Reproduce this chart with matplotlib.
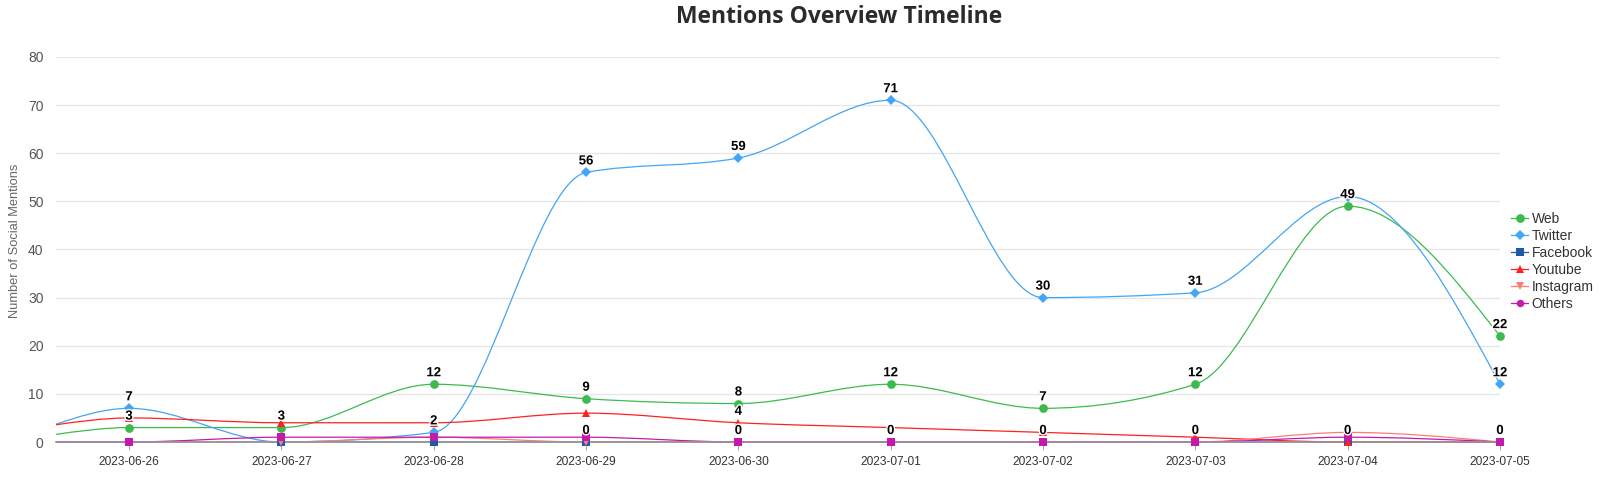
import numpy as np
import matplotlib
matplotlib.use('Agg')
import matplotlib.pyplot as plt
from matplotlib.path import Path
from matplotlib.patches import PathPatch, Rectangle
from matplotlib.lines import Line2D
import matplotlib.patheffects as pe

# first date (06-25) sits left of the visible range, only its line shows
dates = ['2023-06-25', '2023-06-26', '2023-06-27', '2023-06-28', '2023-06-29', '2023-06-30',
         '2023-07-01', '2023-07-02', '2023-07-03', '2023-07-04', '2023-07-05']
web = [0, 3, 3, 12, 9, 8, 12, 7, 12, 49, 22]
twitter = [0, 7, 0, 2, 56, 59, 71, 30, 31, 51, 12]
facebook = [0, 0, 0, 0, 0, 0, 0, 0, 0, 0, 0]
youtube = [2, 5, 4, 4, 6, 4, 3, 2, 1, 0, 0]
instagram = [0, 0, 0, 1, 0, 0, 0, 0, 0, 2, 0]
others = [0, 0, 1, 1, 1, 0, 0, 0, 0, 1, 0]

# which data labels are drawn (visible dates only)
web_lbl = [1, 1, 1, 1, 1, 1, 1, 1, 1, 1]
twitter_lbl = [1, 0, 1, 1, 1, 1, 1, 1, 0, 1]
facebook_lbl = [0, 0, 0, 1, 1, 1, 1, 1, 1, 1]
youtube_lbl = [0, 0, 0, 0, 1, 0, 0, 0, 0, 0]
none_lbl = [0] * 10

series = [
    ('Web', web, '#3dba4e', 'o', 6.3, web_lbl),
    ('Twitter', twitter, '#42a5f5', 'D', 4.6, twitter_lbl),
    ('Facebook', facebook, '#1f5aa6', 's', 5.2, facebook_lbl),
    ('Youtube', youtube, '#ff2020', '^', 6.0, youtube_lbl),
    ('Instagram', instagram, '#ff7b7b', 'v', 6.0, none_lbl),
    ('Others', others, '#c41aac', 's', 5.4, none_lbl),
]


def monotone_path(xs, ys):
    # monotone cubic (steffen) like d3 curveMonotoneX
    xs = np.asarray(xs, float)
    ys = np.asarray(ys, float)
    n = len(xs)
    h = np.diff(xs)
    s = np.diff(ys) / h
    m = np.zeros(n)
    for i in range(1, n - 1):
        p = (s[i - 1] * h[i] + s[i] * h[i - 1]) / (h[i - 1] + h[i])
        m[i] = (np.sign(s[i - 1]) + np.sign(s[i])) * min(abs(s[i - 1]), abs(s[i]), 0.5 * abs(p))
    m[0] = 0.0
    m[-1] = (3 * s[-1] - m[-2]) / 2
    verts = [(xs[0], ys[0])]
    codes = [Path.MOVETO]
    for i in range(n - 1):
        d = h[i] / 3
        verts += [(xs[i] + d, ys[i] + m[i] * d), (xs[i + 1] - d, ys[i + 1] - m[i + 1] * d), (xs[i + 1], ys[i + 1])]
        codes += [Path.CURVE4] * 3
    return Path(verts, codes)


x = np.arange(len(dates)) - 1

fig = plt.figure(figsize=(16, 4.79), dpi=100)
ax = fig.add_axes([0.035, 0.0772, 0.9025, 0.804])

clip = Rectangle((0, -0.05), 1, 1.1, transform=ax.transAxes, facecolor='none', edgecolor='none')

for name, vals, col, mk, ms, lbl in series:
    patch = PathPatch(monotone_path(x, vals), facecolor='none', edgecolor=col, lw=0.9, zorder=2)
    ax.add_patch(patch)
    patch.set_clip_path(clip)
    ax.plot(x[1:], vals[1:], ls='none', marker=mk, color=col, ms=ms, mew=0, clip_on=False, zorder=4)

for name, vals, col, mk, ms, lbl in series:
    for xi, v, show in zip(x[1:], vals[1:], lbl):
        if show:
            ax.annotate(str(v), (xi, v), xytext=(0, 11), textcoords='offset pixels',
                        ha='center', va='center', fontsize=9.5, fontweight='bold',
                        family='Liberation Sans', color='black', zorder=6,
                        path_effects=[pe.withStroke(linewidth=2, foreground='white')],
                        annotation_clip=False)

ax.set_xlim(-0.48, 9)
ax.set_ylim(0, 80)
ax.set_yticks(np.arange(0, 81, 10))
ax.set_xticks(x[1:])
ax.set_xticklabels(dates[1:])
ax.grid(axis='y', color='#e6e6e6', lw=1)
ax.set_axisbelow(True)
for sp in ['top', 'right', 'left']:
    ax.spines[sp].set_visible(False)
ax.spines['bottom'].set_color('#9c98a0')
ax.spines['bottom'].set_linewidth(1.2)
ax.spines['bottom'].set_zorder(3)
ax.tick_params(axis='y', length=0, pad=9, labelsize=10, labelcolor='#555555')
ax.tick_params(axis='x', length=6, width=0.8, color='#aaaaaa', pad=4, labelsize=8.6, labelcolor='#333333')
for t in ax.get_xticklabels() + ax.get_yticklabels():
    t.set_family('Liberation Sans')

fig.text(15 / 1600, 1 - 241 / 479, 'Number of Social Mentions', rotation=90, ha='center', va='center',
         fontsize=9.3, color='#666666', family='Liberation Sans')
fig.text(839 / 1600, 1 - 17 / 479, 'Mentions Overview Timeline', ha='center', va='center',
         fontsize=16.5, fontweight='bold', color='#2b2b2b', family='Open Sans')

handles = [Line2D([0], [0], color=col, lw=0.9, marker=('o' if name == 'Others' else mk), ms=ms, mew=0)
           for name, vals, col, mk, ms, lbl in series]
ax.legend(handles, [s[0] for s in series], loc='upper left', bbox_to_anchor=(1511 / 1600, 1 - 212 / 479),
          bbox_transform=fig.transFigure, frameon=False, borderpad=0, borderaxespad=0,
          handlelength=1.25, handletextpad=0.25, labelspacing=0.22,
          prop={'family': 'Liberation Sans', 'size': 10}, labelcolor='#333333')

fig.savefig('out.png', dpi=100)
